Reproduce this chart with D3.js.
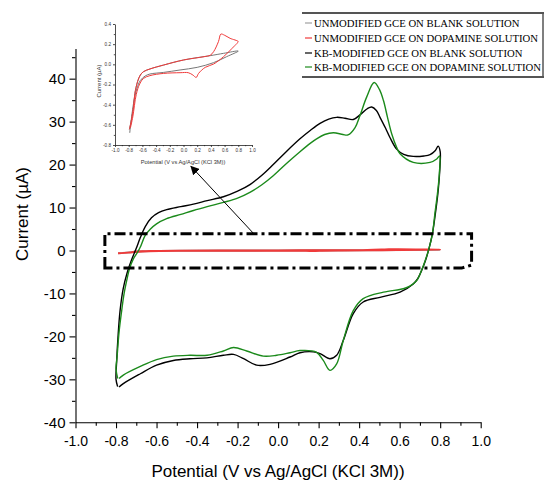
<!DOCTYPE html>
<html>
<head>
<meta charset="utf-8">
<script src="https://cdn.jsdelivr.net/npm/d3@7"></script>
<style>
   body { margin: 0; background: #fff; }
   svg { display: block; font-family: "Liberation Sans", Arial, sans-serif; }
</style>
</head>
<body>
<div id="chart"></div>
<script>
// Voltammogrammes : [potentiel (V), courant (µA)]
// KB-modified GCE, solution blanche
const kbBlank = [
   [-0.792, -31.7], [-0.800, -30.0], [-0.797, -26.0], [-0.790, -20.0], [-0.780, -14.0],
   [-0.765, -9.0], [-0.745, -5.2], [-0.725, -2.4], [-0.700, 0.5], [-0.680, 3.0],
   [-0.655, 5.6], [-0.625, 7.6], [-0.590, 8.8], [-0.550, 9.5], [-0.480, 10.2],
   [-0.418, 10.8], [-0.350, 11.6], [-0.270, 12.5], [-0.200, 13.8], [-0.137, 15.4],
   [-0.080, 17.5], [-0.024, 20.0], [0.040, 23.0], [0.108, 26.0], [0.160, 28.0],
   [0.207, 29.6], [0.250, 30.6], [0.289, 31.0], [0.330, 30.8], [0.371, 30.5],
   [0.410, 31.8], [0.440, 33.0], [0.462, 33.4], [0.485, 32.6], [0.503, 31.0],
   [0.530, 28.5], [0.552, 26.3], [0.585, 23.6], [0.620, 22.4], [0.667, 21.9],
   [0.720, 22.0], [0.750, 22.3], [0.775, 23.2], [0.790, 24.3], [0.800, 23.0],
   [0.797, 18.0], [0.788, 13.0], [0.776, 8.5], [0.762, 4.0], [0.745, 0.5],
   [0.727, -2.4], [0.709, -4.6], [0.690, -6.5], [0.667, -7.8], [0.602, -9.7],
   [0.503, -10.9], [0.420, -12.0], [0.371, -14.7], [0.322, -20.9], [0.289, -24.4],
   [0.256, -25.2], [0.207, -24.0], [0.174, -23.6], [0.108, -23.8], [0.059, -24.8],
   [-0.040, -26.5], [-0.106, -26.7], [-0.170, -25.2], [-0.220, -24.2], [-0.270, -24.4],
   [-0.352, -25.0], [-0.435, -25.2], [-0.517, -25.6], [-0.600, -26.7], [-0.680, -28.7],
   [-0.764, -31.0], [-0.785, -31.8]
];

// KB-modified GCE, solution de dopamine
const kbDopamine = [
   [-0.792, -29.8], [-0.800, -27.5], [-0.795, -24.8], [-0.785, -19.0], [-0.772, -14.0],
   [-0.760, -10.0], [-0.745, -6.5], [-0.734, -4.3], [-0.715, -2.0], [-0.695, -0.5],
   [-0.680, 0.8], [-0.656, 3.5], [-0.630, 5.0], [-0.600, 6.2], [-0.550, 7.4],
   [-0.480, 8.4], [-0.418, 9.3], [-0.350, 10.2], [-0.270, 11.2], [-0.200, 12.2],
   [-0.137, 13.6], [-0.080, 15.3], [-0.024, 17.4], [0.040, 20.2], [0.108, 23.0],
   [0.160, 25.0], [0.190, 26.0], [0.230, 27.0], [0.273, 27.4], [0.320, 27.0],
   [0.345, 26.9], [0.380, 28.6], [0.404, 31.4], [0.437, 35.7], [0.474, 39.1],
   [0.500, 37.5], [0.520, 34.9], [0.540, 31.0], [0.561, 27.1], [0.585, 24.0],
   [0.602, 22.5], [0.667, 20.5], [0.750, 20.5], [0.783, 21.3], [0.797, 22.0],
   [0.796, 18.0], [0.786, 13.0], [0.775, 9.0], [0.762, 4.0], [0.745, 0.5],
   [0.725, -2.5], [0.709, -4.5], [0.684, -7.0], [0.650, -8.3], [0.618, -8.9],
   [0.520, -9.7], [0.420, -11.2], [0.371, -14.0], [0.322, -20.9], [0.289, -26.4],
   [0.256, -27.9], [0.223, -25.6], [0.190, -23.7], [0.108, -23.3], [0.059, -23.8],
   [-0.007, -24.4], [-0.073, -24.6], [-0.155, -23.4], [-0.220, -22.6], [-0.270, -23.4],
   [-0.350, -24.4], [-0.435, -24.4], [-0.517, -24.6], [-0.600, -25.4], [-0.680, -27.0],
   [-0.764, -29.0], [-0.785, -29.8]
];

// Unmodified GCE, solution blanche (encart)
const gceBlank = [
   [-0.790, -0.645], [-0.760, -0.55], [-0.730, -0.42], [-0.710, -0.29], [-0.670, -0.17],
   [-0.630, -0.106], [-0.585, -0.073], [-0.490, -0.046], [-0.290, -0.007], [0.000, 0.043],
   [0.390, 0.086], [0.585, 0.109], [0.800, 0.132],
   [0.630, 0.076], [0.440, 0.017], [0.200, -0.030], [-0.050, -0.056], [-0.290, -0.080],
   [-0.490, -0.096], [-0.560, -0.116], [-0.630, -0.160], [-0.680, -0.240], [-0.730, -0.390],
   [-0.785, -0.680]
];

// Unmodified GCE, solution de dopamine (encart)
const gceDopamine = [
   [-0.790, -0.645], [-0.760, -0.55], [-0.730, -0.42], [-0.710, -0.29], [-0.670, -0.17],
   [-0.630, -0.106], [-0.585, -0.073], [-0.490, -0.046], [-0.290, -0.007], [0.000, 0.043],
   [0.300, 0.076], [0.390, 0.090], [0.440, 0.126], [0.510, 0.225], [0.546, 0.300],
   [0.595, 0.290], [0.680, 0.258], [0.800, 0.225],
   [0.780, 0.208], [0.710, 0.159], [0.585, 0.076], [0.440, 0.003], [0.317, -0.030],
   [0.220, -0.090], [0.185, -0.130], [0.137, -0.106], [0.070, -0.083], [-0.050, -0.083],
   [-0.290, -0.090], [-0.490, -0.112], [-0.585, -0.140], [-0.640, -0.195], [-0.690, -0.300],
   [-0.740, -0.520], [-0.775, -0.630]
];

const seriesNames = [
   "UNMODIFIED GCE ON BLANK SOLUTION",
   "UNMODIFIED GCE ON DOPAMINE SOLUTION",
   "KB-MODIFIED GCE ON BLANK SOLUTION",
   "KB-MODIFIED GCE ON DOPAMINE SOLUTION"
];
const seriesColors = ["#a0a0a0", "#f03a3a", "#000000", "#1b8a1b"];

const xTicks = [-1.0, -0.8, -0.6, -0.4, -0.2, 0.0, 0.2, 0.4, 0.6, 0.8, 1.0];
const yTicks = [-40, -30, -20, -10, 0, 10, 20, 30, 40];
const insetYTicks = [-0.8, -0.6, -0.4, -0.2, 0.0, 0.2, 0.4];

// Zoom (rectangle pointillé) et flèche vers l'encart, en coordonnées données
const zoomBox = {x0: -0.855, x1: 0.955, y0: -4.1, y1: 3.9};
const arrowFrom = [-0.12, 3.9];
const arrowTo = [-0.43, 19.6];

const svg = d3.select("#chart")
   .append("svg")
   .attr("width", 544)
   .attr("height", 482);

svg.append("rect").attr("width", 544).attr("height", 482).attr("fill", "#fff");

const defs = svg.append("defs");
defs.append("marker")
   .attr("id", "fleche")
   .attr("viewBox", "0 0 10 10")
   .attr("refX", 9).attr("refY", 5)
   .attr("markerWidth", 9).attr("markerHeight", 9)
   .attr("markerUnits", "userSpaceOnUse")
   .attr("orient", "auto")
   .append("path")
   .attr("d", "M0,0 L10,5 L0,10 Z")
   .attr("fill", "#000");

// ---------- graphique principal ----------
const x = d3.scaleLinear().domain([-1, 1]).range([75.5, 480.7]);
const y = d3.scaleLinear().domain([-40, 47]).range([422.3, 48.6]);

// Origin écrit un trait d'union, pas le signe moins de d3
const fmt1 = d => d3.format(".1f")(d).replace("\u2212", "-");
const fmt0 = d => String(d);

const xAxis = svg.append("g")
   .attr("transform", `translate(0,${y(-40)})`)
   .call(d3.axisBottom(x).tickValues(xTicks).tickFormat(fmt1).tickSize(6).tickSizeOuter(0).tickPadding(8));
svg.append("g")
   .attr("transform", `translate(0,${y(-40)})`)
   .call(d3.axisBottom(x).tickValues(d3.range(-0.9, 1, 0.2)).tickFormat("").tickSize(3.5).tickSizeOuter(0))
   .select(".domain").remove();
xAxis.selectAll("text").attr("font-size", 14).attr("fill", "#000");

const yAxis = svg.append("g")
   .attr("transform", `translate(${x(-1)},0)`)
   .call(d3.axisLeft(y).tickValues(yTicks).tickFormat(fmt0).tickSize(6).tickSizeOuter(0).tickPadding(4));
svg.append("g")
   .attr("transform", `translate(${x(-1)},0)`)
   .call(d3.axisLeft(y).tickValues(d3.range(-35, 46, 10)).tickFormat("").tickSize(3.5).tickSizeOuter(0))
   .select(".domain").remove();
yAxis.selectAll("text").attr("font-size", 15).attr("fill", "#000");
svg.selectAll(".domain, .tick line").attr("stroke", "#000").attr("stroke-width", 1.1);

svg.append("text")
   .attr("transform", "translate(28,214) rotate(-90)")
   .attr("text-anchor", "middle")
   .attr("font-size", 17)
   .text("Current (µA)");

svg.append("text")
   .attr("x", 278).attr("y", 477)
   .attr("text-anchor", "middle")
   .attr("font-size", 17)
   .text("Potential (V vs Ag/AgCl (KCl 3M))");

const lineMain = d3.line()
   .x(d => x(d[0]))
   .y(d => y(d[1]))
   .curve(d3.curveCatmullRom.alpha(0.5));

const mainSeries = [gceBlank, gceDopamine, kbBlank, kbDopamine];
mainSeries.forEach((data, i) => {
   svg.append("path")
      .attr("d", lineMain(data))
      .attr("fill", "none")
      .attr("stroke", seriesColors[i])
      .attr("stroke-width", i < 2 ? 1.8 : 1.4);
});

// Rectangle de zoom, coin inférieur droit un peu biseauté comme sur l'original
const bx0 = x(zoomBox.x0), bx1 = x(zoomBox.x1), by0 = y(zoomBox.y1), by1 = y(zoomBox.y0);
svg.append("path")
   .attr("d", `M${bx0},${by1} L${bx0},${by0} L${bx1},${by0} L${bx1},${by1 - 3} L${bx1 - 10},${by1} Z`)
   .attr("fill", "none")
   .attr("stroke", "#000")
   .attr("stroke-width", 3)
   .attr("stroke-dasharray", "11,4,3,4");

svg.append("line")
   .attr("x1", x(arrowFrom[0])).attr("y1", y(arrowFrom[1]))
   .attr("x2", x(arrowTo[0])).attr("y2", y(arrowTo[1]))
   .attr("stroke", "#000")
   .attr("stroke-width", 1)
   .attr("marker-end", "url(#fleche)");

// ---------- encart ----------
const xi = d3.scaleLinear().domain([-1, 1]).range([115, 252]);
const yi = d3.scaleLinear().domain([-0.8, 0.4]).range([145, 24]);
const inset = svg.append("g").attr("class", "inset");

inset.append("g")
   .attr("transform", `translate(0,${yi(-0.8)})`)
   .call(d3.axisBottom(xi).tickValues(xTicks).tickFormat(fmt1).tickSize(2).tickSizeOuter(0).tickPadding(2));
inset.append("g")
   .attr("transform", `translate(0,${yi(-0.8)})`)
   .call(d3.axisBottom(xi).tickValues(d3.range(-0.9, 1, 0.2)).tickFormat("").tickSize(1.2).tickSizeOuter(0))
   .select(".domain").remove();
inset.append("g")
   .attr("transform", `translate(${xi(-1)},0)`)
   .call(d3.axisLeft(yi).tickValues(insetYTicks).tickFormat(fmt1).tickSize(2).tickSizeOuter(0).tickPadding(2));
inset.append("g")
   .attr("transform", `translate(${xi(-1)},0)`)
   .call(d3.axisLeft(yi).tickValues(d3.range(-0.7, 0.4, 0.2)).tickFormat("").tickSize(1.2).tickSizeOuter(0))
   .select(".domain").remove();
inset.selectAll("text").attr("font-size", 4.6).attr("fill", "#333");
inset.selectAll(".domain, .tick line").attr("stroke", "#222").attr("stroke-width", 0.8);

inset.append("text")
   .attr("transform", "translate(101,81) rotate(-90)")
   .attr("text-anchor", "middle")
   .attr("font-size", 6)
   .attr("fill", "#333")
   .text("Current (µA)");

inset.append("text")
   .attr("x", 183).attr("y", 164)
   .attr("text-anchor", "middle")
   .attr("font-size", 5.7)
   .attr("fill", "#333")
   .text("Potential (V vs Ag/AgCl (KCl 3M))");

const lineInset = d3.line()
   .x(d => xi(d[0]))
   .y(d => yi(d[1]))
   .curve(d3.curveCatmullRom.alpha(0.5));

[gceBlank, gceDopamine].forEach((data, i) => {
   inset.append("path")
      .attr("d", lineInset(data))
      .attr("fill", "none")
      .attr("stroke", i === 0 ? "#777" : seriesColors[1])
      .attr("stroke-width", 1);
});

// ---------- légende ----------
const legend = svg.append("g").attr("font-family", "'Liberation Serif', 'Times New Roman', serif");
legend.append("line").attr("x1", 302).attr("x2", 544).attr("y1", 13).attr("y2", 13)
   .attr("stroke", "#555").attr("stroke-width", 2);
legend.append("line").attr("x1", 302).attr("x2", 544).attr("y1", 77).attr("y2", 77)
   .attr("stroke", "#555").attr("stroke-width", 2);
legend.append("line").attr("x1", 543).attr("x2", 543).attr("y1", 13).attr("y2", 77)
   .attr("stroke", "#555").attr("stroke-width", 1.5);

const legendRows = [23, 38, 53, 67];
seriesNames.forEach((name, i) => {
   legend.append("line")
      .attr("x1", 305).attr("x2", 312)
      .attr("y1", legendRows[i]).attr("y2", legendRows[i])
      .attr("stroke", seriesColors[i])
      .attr("stroke-width", 1.2);
   legend.append("text")
      .attr("x", 314).attr("y", legendRows[i] + 4)
      .attr("font-size", 10.7)
      .text(name);
});
</script>
</body>
</html>
